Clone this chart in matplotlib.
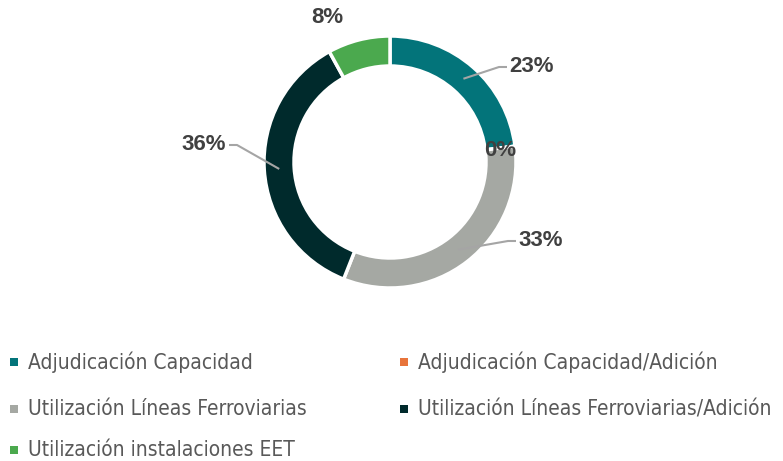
import numpy as np
import matplotlib.pyplot as plt
from matplotlib.patches import Rectangle

categories = ['Adjudicación Capacidad', 'Adjudicación Capacidad/Adición',
              'Utilización Líneas Ferroviarias', 'Utilización Líneas Ferroviarias/Adición',
              'Utilización instalaciones EET']
shares = [23, 0, 33, 36, 8]
colors = ['#03747A', '#E8743B', '#A5A8A3', '#002A2C', '#4BA94E']

W, H = 783, 461
fig = plt.figure(figsize=(W / 100, H / 100), dpi=100)
ax = fig.add_axes([0, 0, 1, 1])

# donut, pixel coordinates (y up)
cx, cy, R = 390, H - 162, 126
wedges, _ = ax.pie(shares, colors=colors, startangle=90, counterclock=False,
                   center=(cx, cy), radius=R, frame=True,
                   wedgeprops=dict(width=30, edgecolor='white', linewidth=2.5))
ax.set_xlim(0, W)
ax.set_ylim(0, H)
ax.set_aspect('equal')
ax.axis('off')

# data labels: text position (px from top-left) and whether a leader line is drawn
label_pos = [(532, 67), (500, 150), (541, 241), (204, 145), (327, 18)]
leader = [True, False, True, True, False]
cum = np.cumsum([0] + shares)
for i, v in enumerate(shares):
    tx, ty = label_pos[i]
    ty = H - ty
    ax.text(tx, ty, f'{v}%', ha='center', va='center', fontsize=16,
            fontweight='bold', color='#404040', family='Liberation Sans')
    if leader[i]:
        ang = np.deg2rad(90 - (cum[i] + v / 2) * 3.6)
        r0 = R - 15
        x0, y0 = cx + r0 * np.cos(ang), cy + r0 * np.sin(ang)
        side = 1 if tx > cx else -1
        ex = tx - side * 25
        ax.plot([x0, ex + side * -8, ex], [y0, ty, ty], color='#A5A5A5', lw=1.5,
                solid_capstyle='butt')

# legend
leg_x = [15, 405]
leg_y = [362, 409, 450]
for i, (name, c) in enumerate(zip(categories, colors)):
    lx = leg_x[i % 2]
    ly = H - leg_y[i // 2]
    ax.add_patch(Rectangle((lx - 5, ly - 4), 8, 8, facecolor=c, edgecolor='none'))
    ax.text(lx + 13, ly, name, ha='left', va='center', fontsize=15,
            color='#595959', family='DejaVu Sans', stretch='condensed')

fig.savefig('out.png', dpi=100)
